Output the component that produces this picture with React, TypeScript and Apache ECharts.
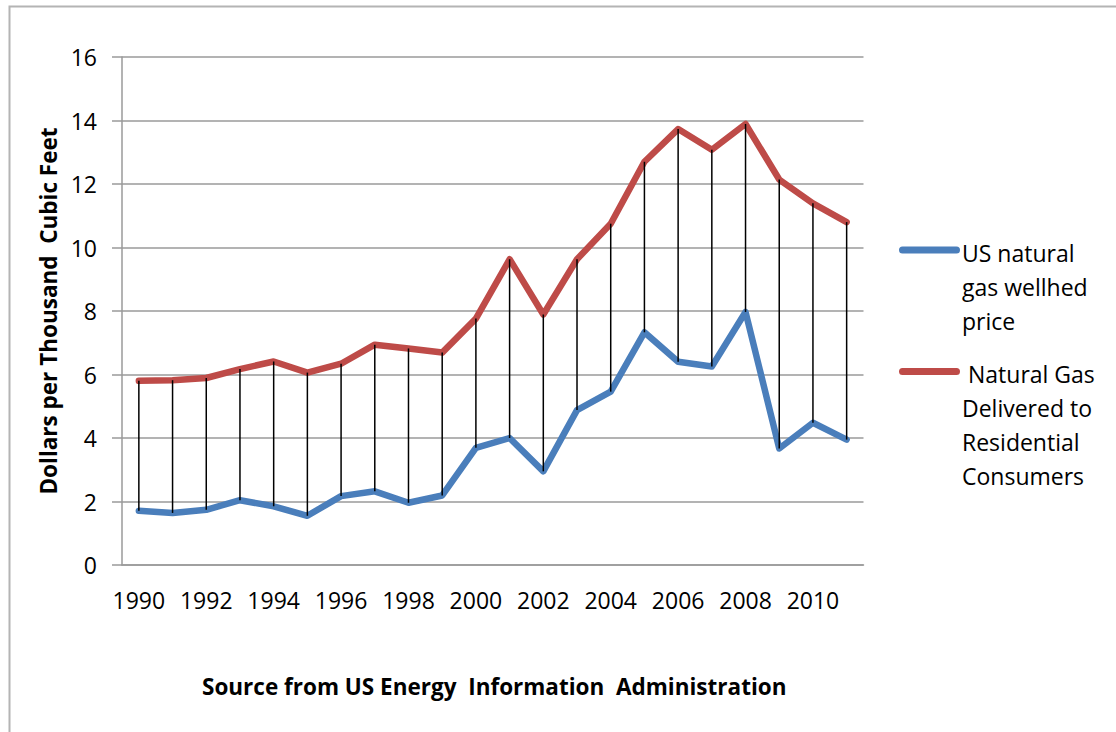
import React, { useEffect, useRef } from "react";
import * as echarts from "echarts";

const years = [
  "1990", "1991", "1992", "1993", "1994", "1995", "1996", "1997", "1998", "1999", "2000",
  "2001", "2002", "2003", "2004", "2005", "2006", "2007", "2008", "2009", "2010", "2011",
];
const wellheadPrice = [
  1.71, 1.64, 1.74, 2.04, 1.85, 1.55, 2.17, 2.32, 1.96, 2.19, 3.69,
  4.0, 2.95, 4.88, 5.46, 7.33, 6.4, 6.25, 7.97, 3.67, 4.48, 3.95,
];
const residentialPrice = [
  5.8, 5.82, 5.89, 6.17, 6.41, 6.06, 6.34, 6.94, 6.82, 6.69, 7.76,
  9.63, 7.89, 9.63, 10.75, 12.7, 13.73, 13.08, 13.89, 12.14, 11.39, 10.8,
];
const wellheadName = "US natural\ngas wellhed\nprice";
const residentialName = " Natural Gas\nDelivered to\nResidential\nConsumers";
const yAxisName = "Dollars per Thousand  Cubic Feet";
const sourceText = "Source from US Energy  Information  Administration";

const BLUE = "#4a7ebb";
const RED = "#be4b48";
const FONT = "'Open Sans', Lato, sans-serif";

export default function App() {
  const ref = useRef<HTMLDivElement>(null);
  useEffect(() => {
    if (!ref.current) return;
    const chart = echarts.init(ref.current, null, { renderer: "svg" });
    const dropData = years.map((_, i) => [i, wellheadPrice[i], residentialPrice[i]]);
    chart.setOption({
      animation: false,
      backgroundColor: "#ffffff",
      title: {
        text: sourceText,
        left: 197,
        top: 670,
        textStyle: { fontFamily: FONT, fontWeight: "bold", fontSize: 22.5, color: "#000" },
      },
      grid: { left: 122, right: 252.5, top: 57, bottom: 167 },
      xAxis: {
        type: "category",
        data: years,
        boundaryGap: true,
        axisLine: { show: true, lineStyle: { color: "#9a9a9a", width: 1.5 } },
        axisTick: { show: false },
        axisLabel: {
          interval: 1,
          margin: 23,
          fontFamily: FONT,
          fontSize: 23,
          color: "#000",
        },
        splitLine: { show: false },
      },
      yAxis: {
        type: "value",
        min: 0,
        max: 16,
        interval: 2,
        name: yAxisName,
        nameLocation: "middle",
        nameRotate: 90,
        nameGap: 60,
        nameTextStyle: { fontFamily: FONT, fontWeight: "bold", fontSize: 22.5, color: "#000" },
        axisLine: { show: true, lineStyle: { color: "#9a9a9a", width: 1.5 } },
        axisTick: { show: true, length: 10, lineStyle: { color: "#9a9a9a", width: 1.5 } },
        axisLabel: { margin: 25, fontFamily: FONT, fontSize: 23, color: "#000" },
        splitLine: { show: true, lineStyle: { color: "#9a9a9a", width: 1.5 } },
      },
      series: [
        {
          name: wellheadName,
          type: "line",
          data: wellheadPrice,
          symbol: "none",
          lineStyle: { color: BLUE, width: 6.5, cap: "round", join: "round" },
          itemStyle: { color: BLUE },
          z: 2,
        },
        {
          name: residentialName,
          type: "line",
          data: residentialPrice,
          symbol: "none",
          lineStyle: { color: RED, width: 6.5, cap: "round", join: "round" },
          itemStyle: { color: RED },
          z: 2,
        },
        {
          type: "custom",
          data: dropData,
          encode: { x: 0, y: [1, 2] },
          z: 3,
          renderItem: (params: any, api: any) => {
            const i = api.value(0);
            const p1 = api.coord([i, api.value(1)]);
            const p2 = api.coord([i, api.value(2)]);
            return {
              type: "line",
              shape: { x1: p1[0], y1: p1[1], x2: p2[0], y2: p2[1] },
              style: { stroke: "#000", lineWidth: 1.5 },
            };
          },
        },
      ],
      graphic: [
        {
          type: "rect",
          shape: { x: 9.5, y: 6.5, width: 1300, height: 900 },
          style: { fill: "none", stroke: "#b4b4b4", lineWidth: 2 },
          silent: true,
        },
        {
          type: "rect",
          shape: { x: 899, y: 246.5, width: 61, height: 7, r: 3.5 },
          style: { fill: BLUE },
        },
        {
          type: "text",
          x: 962,
          y: 235.5,
          style: {
            text: wellheadName,
            fontFamily: FONT,
            fontSize: 23,
            lineHeight: 34,
            fill: "#000",
            textVerticalAlign: "top",
          },
        },
        {
          type: "rect",
          shape: { x: 899, y: 368, width: 61, height: 7, r: 3.5 },
          style: { fill: RED },
        },
        {
          type: "text",
          x: 962,
          y: 357,
          style: {
            text: residentialName,
            fontFamily: FONT,
            fontSize: 23,
            lineHeight: 34,
            fill: "#000",
            textVerticalAlign: "top",
          },
        },
      ],
    });
    return () => chart.dispose();
  }, []);
  return (
    <div
      ref={ref}
      style={{ position: "absolute", left: 0, top: 0, width: 1116, height: 732, background: "#fff" }}
    />
  );
}
